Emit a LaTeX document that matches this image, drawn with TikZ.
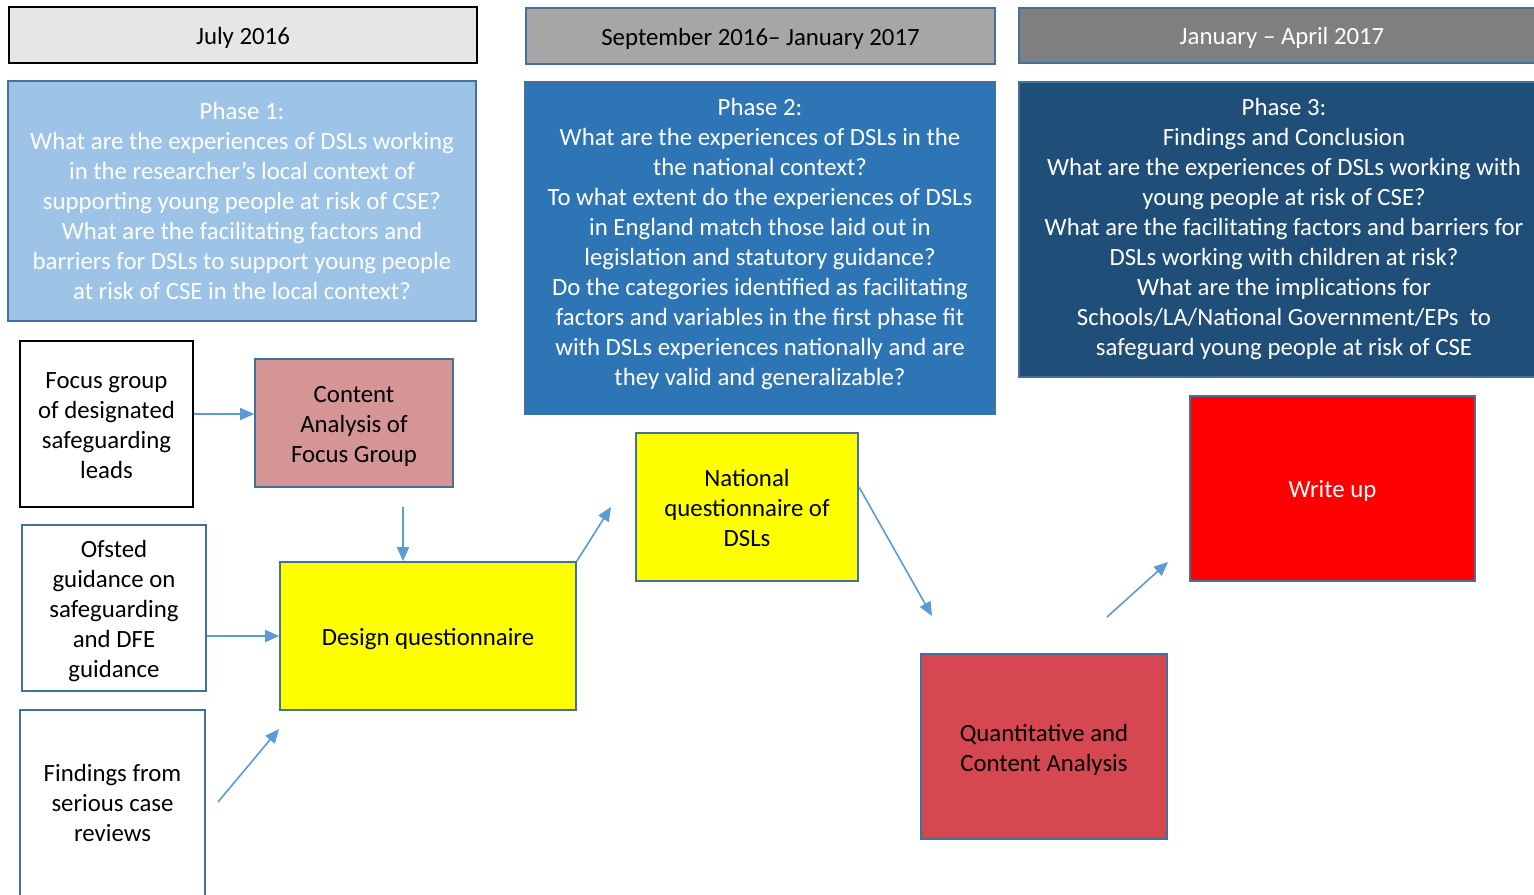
\documentclass[tikz,border=0pt]{standalone}
\usepackage{fontspec}
\setmainfont{Carlito}
\usetikzlibrary{arrows.meta}
\definecolor{edgeblue}{HTML}{41719C}
\definecolor{arrowblue}{HTML}{5B9BD5}
\definecolor{julygray}{HTML}{E6E6E6}
\definecolor{sepgray}{HTML}{A6A6A6}
\definecolor{jangray}{HTML}{7F7F7F}
\definecolor{phaseone}{HTML}{9DC3E6}
\definecolor{phasetwo}{HTML}{2E75B6}
\definecolor{phasethree}{HTML}{1F4E79}
\definecolor{pinkfill}{HTML}{D69595}
\definecolor{quantred}{HTML}{D74752}
\definecolor{qyellow}{HTML}{FFFF00}
\definecolor{wred}{HTML}{FF0000}

\begin{document}
\begin{tikzpicture}[x=0.5pt,y=-0.5pt,
  every node/.style={align=center,inner sep=0pt,font=\fontsize{12.4}{15}\selectfont},
  bluebox/.style={draw=edgeblue,line width=0.8pt},
  arr/.style={draw=arrowblue,line width=0.8pt,-{Triangle[length=7pt,width=6pt]}}]
\clip (0,0) rectangle (1534,894);
\fill[white] (0,0) rectangle (1534,894);

\node[draw=black,line width=1.1pt,fill=julygray,minimum width=234pt,minimum height=28pt] (july) at (243,35) {};
\node (julytxt) at (243,38) {July 2016};
\node[bluebox,fill=sepgray,minimum width=234.5pt,minimum height=28pt] (sept) at (760.5,36) {};
\node (septtxt) at (760.5,38.5) {September 2016– January 2017};
\node[bluebox,fill=jangray,minimum width=263pt,minimum height=27.5pt] (jan) at (1282,35.5) {};
\node[text=white] (jantxt) at (1282,38) {January – April 2017};

\node[bluebox,fill=phaseone,text=white,minimum width=234pt,minimum height=120pt] (p1) at (242,201) {Phase 1:\\What are the experiences of DSLs working\\in the researcher’s local context of\\supporting young people at risk of CSE?\\What are the facilitating factors and\\barriers for DSLs to support young people\\at risk of CSE in the local context?};
\node[bluebox,fill=phasetwo,minimum width=235pt,minimum height=166pt] (p2) at (760,248) {};
\node[text=white] (p2txt) at (760,244) {Phase 2:\\What are the experiences of DSLs in the\\the national context?\\To what extent do the experiences of DSLs\\in England match those laid out in\\legislation and statutory guidance?\\Do the categories identified as facilitating\\factors and variables in the first phase fit\\with DSLs experiences nationally and are\\they valid and generalizable?};
\node[bluebox,fill=phasethree,minimum width=263pt,minimum height=147.5pt] (p3) at (1282,229.5) {};
\node[text=white] (p3txt) at (1284,229) {Phase 3:\\Findings and Conclusion\\What are the experiences of DSLs working with\\young people at risk of CSE?\\What are the facilitating factors and barriers for\\DSLs working with children at risk?\\What are the implications for\\Schools/LA/National Government/EPs~ to\\safeguard young people at risk of CSE};

\node[draw=black,line width=1.1pt,fill=white,minimum width=86.5pt,minimum height=83pt] (focus) at (106.5,424) {};
\node (focustxt) at (106.5,426) {Focus group\\of designated\\safeguarding\\leads};
\node[bluebox,fill=pinkfill,minimum width=99pt,minimum height=64pt] (content) at (354,423) {};
\node (contenttxt) at (354,426) {Content\\Analysis of\\Focus Group};
\node[bluebox,fill=white,minimum width=92pt,minimum height=83pt] (ofsted) at (114,608) {};
\node (ofstedtxt) at (114,611) {Ofsted\\guidance on\\safeguarding\\and DFE\\guidance};
\node[bluebox,fill=white,minimum width=92.5pt,minimum height=95pt] (findings) at (112.5,805) {};
\node (findtxt) at (112.5,803) {Findings from\\serious case\\reviews};
\node[bluebox,fill=qyellow,minimum width=148pt,minimum height=74pt] (design) at (428,636) {};
\node (designtxt) at (428,639) {Design questionnaire};
\node[bluebox,fill=qyellow,minimum width=111pt,minimum height=74pt] (national) at (747,507) {};
\node (nationaltxt) at (747,508) {National\\questionnaire of\\DSLs};
\node[bluebox,fill=quantred,minimum width=123pt,minimum height=92.5pt] (quant) at (1044,746.5) {};
\node (quanttxt) at (1044,749.5) {Quantitative and\\Content Analysis};
\node[bluebox,fill=wred,minimum width=142.5pt,minimum height=92.5pt] (writeup) at (1332.5,488.5) {};
\node[text=white] (writetxt) at (1332.5,490.5) {Write up};

\coordinate (cdtop) at (403,507);
\coordinate (fstart) at (218,802);
\coordinate (fend) at (279,729);
\coordinate (dnend) at (611,507);
\coordinate (nqstart) at (859,487);
\coordinate (nqend) at (932,616);
\coordinate (qwstart) at (1107,617);
\coordinate (qwend) at (1168,562);

\draw[arr] (focus.east |- 0,414) -- (content.west |- 0,414);
\draw[arr] (cdtop) -- (cdtop |- design.north);
\draw[arr] (ofsted.east |- design.west) -- (design.west);
\draw[arr] (fstart) -- (fend);
\draw[arr] (design.north east) -- (dnend);
\draw[arr] (nqstart) -- (nqend);
\draw[arr] (qwstart) -- (qwend);
\end{tikzpicture}
\end{document}
